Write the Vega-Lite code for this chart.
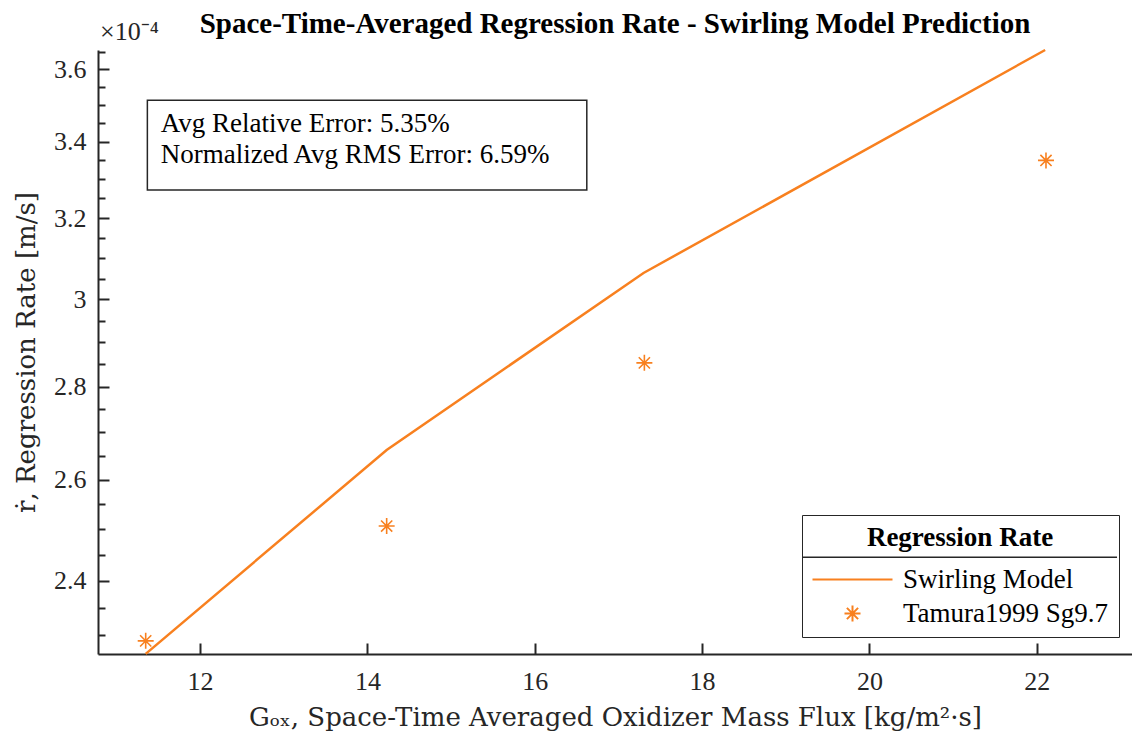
{
  "$schema": "https://vega.github.io/schema/vega-lite/v6.json",
  "width": 1034,
  "height": 604,
  "autosize": {"type": "none"},
  "padding": {"left": 98, "top": 50, "right": 0, "bottom": 81},
  "background": "white",
  "title": {
    "text": "Space-Time-Averaged Regression Rate - Swirling Model Prediction",
    "font": "Liberation Serif",
    "fontSize": 29,
    "fontWeight": "bold",
    "color": "black",
    "anchor": "middle",
    "frame": "group",
    "baseline": "alphabetic",
    "offset": 17,
    "dy": 60
  },
  "config": {
    "view": {"stroke": null},
    "axis": {
      "grid": false,
      "domainColor": "#262626",
      "domainWidth": 2,
      "tickColor": "#262626",
      "tickWidth": 2,
      "labelFont": "Liberation Serif",
      "labelFontSize": 26,
      "labelColor": "#262626",
      "titleFont": "DejaVu Serif",
      "titleFontSize": 26,
      "titleFontWeight": "normal",
      "titleColor": "#262626",
      "labelFlush": false,
      "labelOverlap": false
    },
    "legend": {
      "orient": "none",
      "legendX": 704,
      "legendY": 465,
      "titleFont": "Liberation Serif",
      "titleFontSize": 27,
      "titleFontWeight": "bold",
      "titleColor": "black",
      "titleAnchor": "middle",
      "titleLimit": 400,
      "titlePadding": 14,
      "labelFont": "Liberation Serif",
      "labelFontSize": 27,
      "labelColor": "black",
      "labelLimit": 400,
      "padding": 10,
      "strokeColor": "#262626",
      "fillColor": null,
      "symbolOffset": 27,
      "labelOffset": 37,
      "rowPadding": 6,
      "symbolSize": 256,
      "symbolStrokeWidth": 2
    }
  },
  "datasets": {
    "rates": [
      {"G": 11.35, "r": 0.00022653, "series": "Swirling Model"},
      {"G": 14.23, "r": 0.00026625, "series": "Swirling Model"},
      {"G": 17.30, "r": 0.00030637, "series": "Swirling Model"},
      {"G": 22.10, "r": 0.0003656, "series": "Swirling Model"},
      {"G": 11.35, "r": 0.00022887, "series": "Tamura1999 Sg9.7"},
      {"G": 14.23, "r": 0.00025068, "series": "Tamura1999 Sg9.7"},
      {"G": 17.31, "r": 0.0002853, "series": "Tamura1999 Sg9.7"},
      {"G": 22.11, "r": 0.00033496, "series": "Tamura1999 Sg9.7"}
    ]
  },
  "layer": [
    {
      "data": {"values": [{}]},
      "mark": {"type": "rect", "fill": "white", "stroke": "#262626", "strokeWidth": 1.5},
      "encoding": {
        "x": {"datum": 11.37, "type": "quantitative"},
        "x2": {"datum": 16.622},
        "y": {"datum": 0.00035134, "type": "quantitative"},
        "y2": {"datum": 0.00032718}
      }
    },
    {
      "data": {"values": [{}]},
      "mark": {
        "type": "text",
        "text": ["Avg Relative Error: 5.35%", "Normalized Avg RMS Error: 6.59%"],
        "font": "Liberation Serif",
        "fontSize": 27,
        "color": "black",
        "align": "left",
        "baseline": "alphabetic",
        "lineHeight": 31
      },
      "encoding": {
        "x": {"datum": 11.53, "type": "quantitative"},
        "y": {"datum": 0.00034262, "type": "quantitative"}
      }
    },
    {
      "data": {"values": [{}]},
      "mark": {
        "type": "text",
        "text": "×10⁻⁴",
        "font": "Liberation Serif",
        "fontSize": 26,
        "color": "#262626",
        "align": "left",
        "baseline": "alphabetic",
        "dx": 2,
        "dy": -10
      },
      "encoding": {
        "x": {"datum": 10.78, "type": "quantitative"},
        "y": {"datum": 0.0003656, "type": "quantitative"}
      }
    },
    {
      "data": {"values": [{}]},
      "mark": {"type": "rule", "stroke": "#262626", "strokeWidth": 1.5},
      "encoding": {
        "x": {"datum": 19.194, "type": "quantitative"},
        "x2": {"datum": 22.959},
        "y": {"datum": 0.00024454, "type": "quantitative"}
      }
    },
    {
      "data": {"name": "rates"},
      "transform": [{"filter": "datum.series === 'Swirling Model'"}],
      "mark": {"type": "line", "strokeWidth": 2.5, "clip": false},
      "encoding": {
        "x": {
          "field": "G",
          "type": "quantitative",
          "scale": {"domain": [10.78, 23.138], "nice": false, "zero": false},
          "axis": {
            "values": [12, 14, 16, 18, 20, 22],
            "format": "d",
            "title": "Gₒₓ, Space-Time Averaged Oxidizer Mass Flux [kg/m²·s]",
            "tickSize": -11,
            "labelPadding": 25,
            "titleY": 71,
            "titleBaseline": "alphabetic"
          }
        },
        "y": {
          "field": "r",
          "type": "quantitative",
          "scale": {"type": "log", "domain": [0.0002265, 0.0003656], "nice": false, "zero": false},
          "axis": {
            "values": [0.00023, 0.000235, 0.00024, 0.000245, 0.00025, 0.000255, 0.00026, 0.000265, 0.00027, 0.000275, 0.00028, 0.000285, 0.00029, 0.000295, 0.0003, 0.000305, 0.00031, 0.000315, 0.00032, 0.000325, 0.00033, 0.000335, 0.00034, 0.000345, 0.00035, 0.000355, 0.00036, 0.000365],
            "labelExpr": "round(datum.value*1e6) % 20 == 0 ? format(datum.value*1e4, '.1~f') : ''",
            "tickSize": {"condition": {"test": "round(datum.value*1e6) % 20 == 0", "value": -11}, "value": -7},
            "labelPadding": 23,
            "title": "ṙ, Regression Rate [m/s]",
            "titleX": -64,
            "titleY": 302,
            "titleBaseline": "alphabetic"
          }
        },
        "color": {
          "field": "series",
          "type": "nominal",
          "scale": {"domain": ["Swirling Model", "Tamura1999 Sg9.7"], "range": ["#F8801F", "#F8801F"]},
          "legend": {"title": "Regression Rate"}
        }
      }
    },
    {
      "data": {"name": "rates"},
      "transform": [{"filter": "datum.series === 'Tamura1999 Sg9.7'"}],
      "mark": {"type": "point", "filled": false, "strokeWidth": 1.6, "size": 256, "opacity": 1, "clip": false},
      "encoding": {
        "x": {"field": "G", "type": "quantitative"},
        "y": {"field": "r", "type": "quantitative"},
        "color": {"field": "series", "type": "nominal"},
        "shape": {
          "field": "series",
          "type": "nominal",
          "scale": {"domain": ["Swirling Model", "Tamura1999 Sg9.7"], "range": ["M-5,0L5,0", "M-1,0L1,0M0,-1L0,1M-0.7,-0.7L0.7,0.7M-0.7,0.7L0.7,-0.7"]},
          "legend": {"title": "Regression Rate"}
        }
      }
    }
  ]
}
